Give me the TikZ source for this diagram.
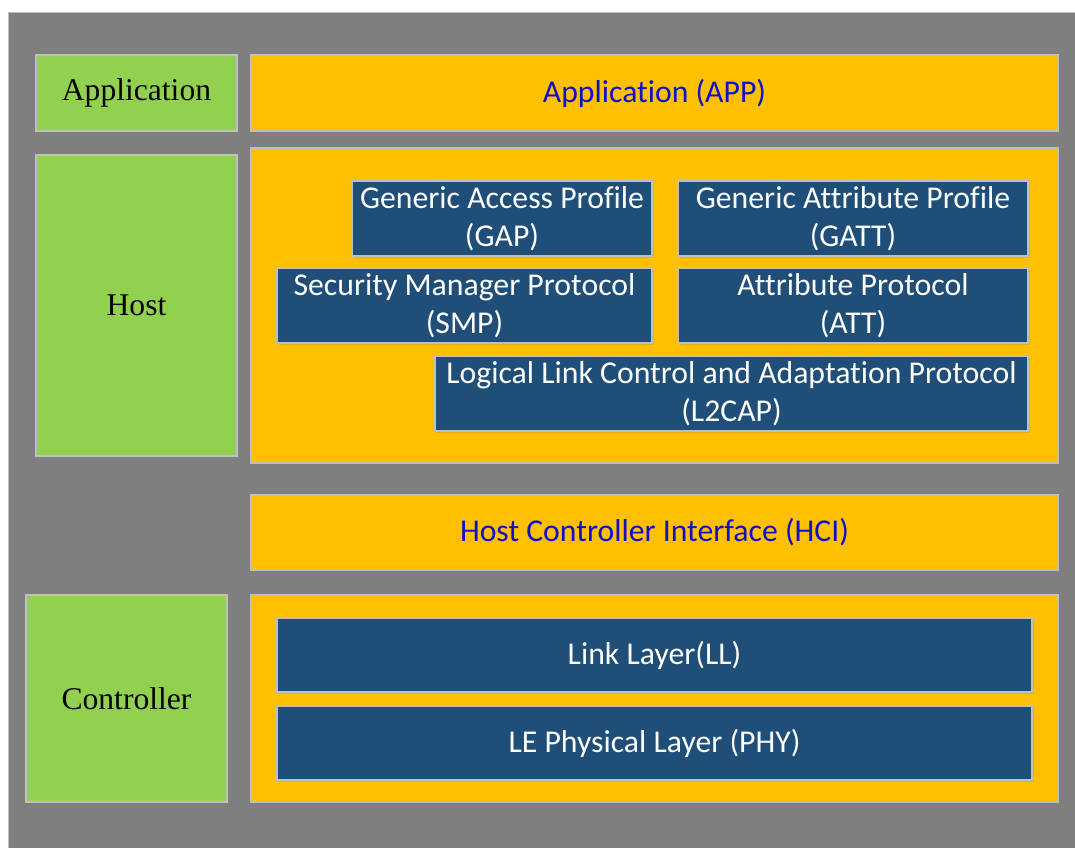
\documentclass[tikz,border=0pt]{standalone}
\usepackage{fontspec}
\setmainfont{Liberation Serif}
\newfontfamily\calfont[Ligatures=NoCommon]{Carlito}
\usetikzlibrary{shadows}
\definecolor{bggray}{HTML}{7F7F7F}
\definecolor{layergreen}{HTML}{92D050}
\definecolor{layerorange}{HTML}{FFC000}
\definecolor{protoblue}{HTML}{1F4E79}
\definecolor{edgegray}{HTML}{BFBFBF}
\definecolor{labelblue}{RGB}{16,16,200}
\begin{document}
\begin{tikzpicture}[x=0.75pt,y=-0.75pt,
  sz/.style 2 args={minimum width=#1*0.75pt, minimum height=#2*0.75pt},
  base/.style={draw=edgegray, line width=0.8pt, inner sep=0pt, align=center,
    drop shadow={shadow xshift=1.2pt, shadow yshift=-1.2pt, opacity=0.25}},
  tier/.style={base, fill=layergreen, font=\fontsize{23.7}{28.5}\selectfont, text=black},
  layer/.style={base, fill=layerorange, font=\calfont\fontsize{23.8}{28.5}\selectfont, text=labelblue},
  proto/.style={base, fill=protoblue, font=\calfont\fontsize{23.8}{28.5}\selectfont, text=white}]
  \useasboundingbox (0,0) rectangle (1075,848);
  \fill[white] (0,0) rectangle (1075,848);
  \fill[bggray] (8,12) rectangle (1075,848);
  \draw[edgegray, line width=0.6pt] (8,848) -- (8,12) -- (1075,12);

  % left column: tiers
  \node[tier, sz={201}{76}]  (tapp)  at (136.5,93)    {Application};
  \node[tier, sz={201}{301}] (thost) at (136.5,305.5) {Host};
  \node[tier, sz={201}{207}] (tctl)  at (126.5,698.5) {Controller};

  % right column: layers
  \node[layer, sz={807}{76}]  (app)   at (654.5,93)    {Application (APP)};
  \node[layer, sz={807}{315}] (host)  at (654.5,305.5) {};
  \node[layer, sz={807}{75}]  (hci)   at (654.5,532.5) {Host Controller Interface (HCI)};
  \node[layer, sz={807}{207}] (ctl)   at (654.5,698.5) {};

  % host protocols
  \node[proto, sz={300}{75}] (gap)   at (502,218.5)   {Generic Access Profile\\(GAP)};
  \node[proto, sz={350}{75}] (gatt)  at (853,218.5)   {Generic Attribute Profile\\(GATT)};
  \node[proto, sz={375}{75}] (smp)   at (464.5,305.5) {Security Manager Protocol\\(SMP)};
  \node[proto, sz={350}{75}] (att)   at (853,305.5)   {Attribute Protocol\\(ATT)};
  \node[proto, sz={593}{75}] (l2cap) at (731.5,393.5) {Logical Link Control and Adaptation Protocol\\(L2CAP)};

  % controller protocols
  \node[proto, sz={755}{74}] (ll)  at (654.5,655) {Link Layer(LL)};
  \node[proto, sz={755}{74}] (phy) at (654.5,743) {LE Physical Layer (PHY)};
\end{tikzpicture}
\end{document}
